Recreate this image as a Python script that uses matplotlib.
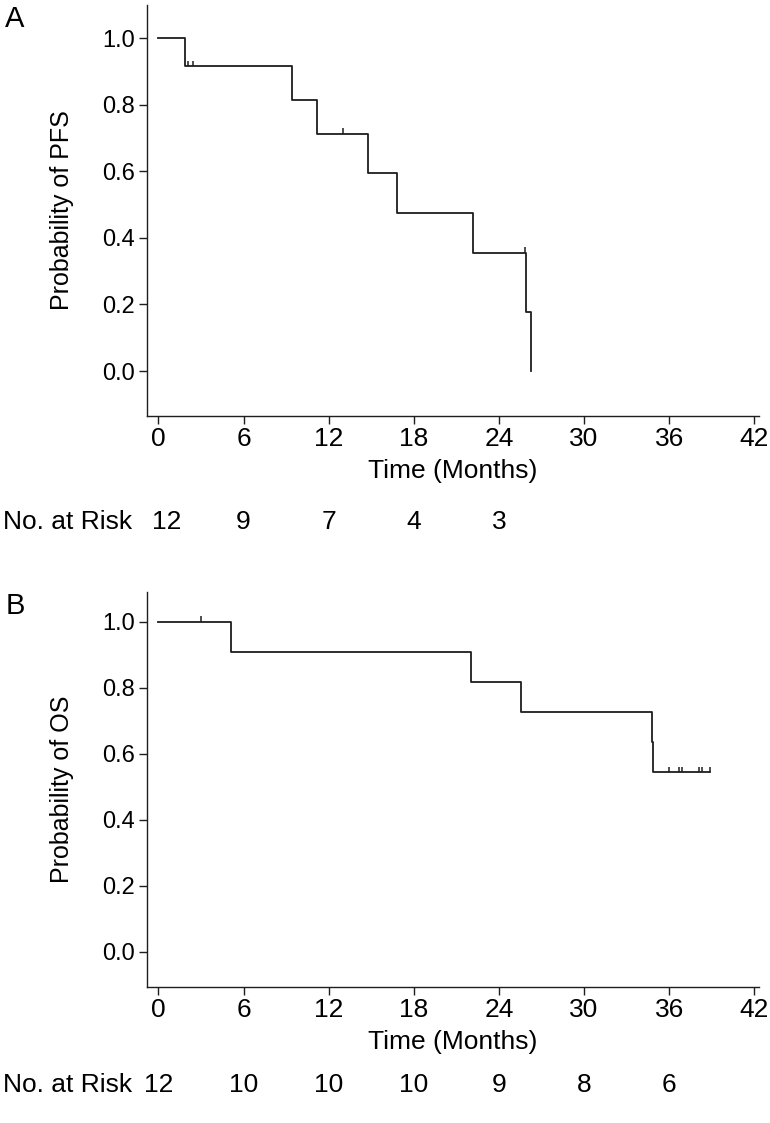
import numpy as np
import matplotlib.pyplot as plt
from matplotlib import font_manager

# ---- data ----
# Panel A: progression-free survival
pfs_times = [0.0, 1.9, 9.4, 11.15, 14.75, 16.85, 22.15, 25.9, 26.25]
pfs_surv = [1.0, 0.917, 0.815, 0.713, 0.594, 0.475, 0.356, 0.178, 0.0]
pfs_cens_t = [2.1, 2.45, 13.0, 25.85]
pfs_cens_s = [0.917, 0.917, 0.713, 0.356]
pfs_risk = ["12", "9", "7", "4", "3"]
pfs_risk_x = [0.6, 6, 12, 18, 24]

# Panel B: overall survival
os_times = [0.0, 5.1, 22.05, 25.55, 34.77, 34.85, 38.9]
os_surv = [1.0, 0.909, 0.818, 0.727, 0.636, 0.545, 0.545]
os_cens_t = [3.0, 36.0, 36.7, 36.9, 38.1, 38.3, 38.85]
os_cens_s = [1.0, 0.545, 0.545, 0.545, 0.545, 0.545, 0.545]
os_risk = ["12", "10", "10", "10", "9", "8", "6"]
os_risk_x = [0, 6, 12, 18, 24, 30, 36]

xticks = [0, 6, 12, 18, 24, 30, 36, 42]
yticks = [0.0, 0.2, 0.4, 0.6, 0.8, 1.0]

installed = {f.name for f in font_manager.fontManager.ttflist}
narrow = ['Liberation Sans Narrow'] if 'Liberation Sans Narrow' in installed else []
narrow = narrow + ['Liberation Sans', 'DejaVu Sans']
plt.rcParams['font.family'] = ['Liberation Sans', 'DejaVu Sans']

LC = '#1e1e1e'
XFS = 19  # x-side text (ticks, xlabel, at-risk row)

fig = plt.figure(figsize=(7.7, 11.23), dpi=100)
axA = fig.add_axes([0.191, 0.6296, 0.795, 0.366])
axB = fig.add_axes([0.191, 0.1211, 0.795, 0.3517])


def km_panel(ax, t, s, ct, cs, ylab, ylim, risk, risk_x, risk_y):
    ax.step(t, s, where='post', color=LC, lw=1.3)
    ax.vlines(ct, cs, np.array(cs) + 0.016, color=LC, lw=1.1)
    ax.set_xlim(-0.8, 42.35)
    ax.set_ylim(*ylim)
    ax.set_xticks(xticks)
    ax.set_yticks(yticks)
    ax.set_yticklabels(['%.1f' % v for v in yticks], fontsize=17)
    ax.set_xticklabels([str(v) for v in xticks], fontsize=XFS, family=narrow)
    for sp in ['top', 'right']:
        ax.spines[sp].set_visible(False)
    for sp in ['left', 'bottom']:
        ax.spines[sp].set_linewidth(1.0)
        ax.spines[sp].set_color(LC)
    ax.tick_params(length=6, width=1.0, color=LC)
    ax.tick_params(axis='x', pad=2)
    ax.tick_params(axis='y', pad=3)
    ax.set_ylabel(ylab, fontsize=18)
    ax.yaxis.set_label_coords(-0.119, 0.5)
    ax.set_xlabel('Time (Months)', fontsize=XFS, family=narrow, labelpad=6)
    # number at risk row
    ax.text(-0.236, risk_y, 'No. at Risk', transform=ax.transAxes,
            fontsize=XFS, family=narrow, ha='left', va='center')
    for x, r in zip(risk_x, risk):
        ax.text(x, risk_y, r, transform=ax.get_xaxis_transform(),
                fontsize=XFS, family=narrow, ha='center', va='center',
                clip_on=False)


km_panel(axA, pfs_times, pfs_surv, pfs_cens_t, pfs_cens_s,
         'Probability of PFS', (-0.135, 1.1), pfs_risk, pfs_risk_x, -0.257)
km_panel(axB, os_times, os_surv, os_cens_t, os_cens_s,
         'Probability of OS', (-0.106, 1.09), os_risk, os_risk_x, -0.247)

fig.text(15 / 770, 1 - 19 / 1123, 'A', fontsize=21, ha='center', va='center')
fig.text(15 / 770, 1 - 606 / 1123, 'B', fontsize=21, ha='center', va='center')

fig.savefig('out.png', dpi=100)
